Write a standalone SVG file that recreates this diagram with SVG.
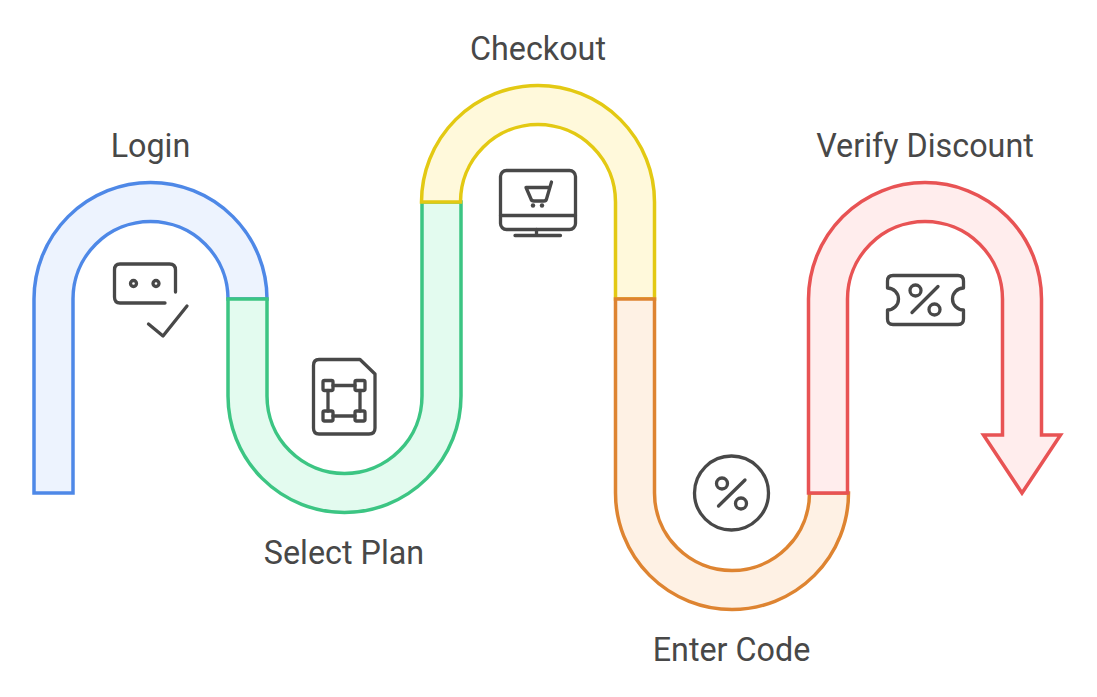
<svg xmlns="http://www.w3.org/2000/svg" width="1097" height="697" viewBox="0 0 1097 697">
<style>
text{font-family:Roboto,"Liberation Sans",sans-serif;font-size:32.3px;fill:#484848;text-anchor:middle}
.s{stroke-width:3.5;stroke-linejoin:miter}
.b{fill:#edf3fe;stroke:#4e88e7}
.g{fill:#e3fbef;stroke:#3cc583}
.y{fill:#fff9db;stroke:#e3c913}
.o{fill:#fef1e4;stroke:#de8431}
.r{fill:#ffeded;stroke:#e85354}
.i{fill:none;stroke:#484848;stroke-width:3.3;stroke-linecap:round;stroke-linejoin:round}
</style>
<rect width="1097" height="697" fill="#fff"/>
<g id="connectors">
<path class="s b" d="M34 493V299A116.500 116.500 0 0 1 267 299H228A77.500 77.500 0 0 0 73 299V493Z"/>
<path class="s g" d="M228 299H267V396A77.500 77.500 0 0 0 422 396V202H461V396A116.500 116.500 0 0 1 228 396Z"/>
<path class="s y" d="M421.500 202A116.500 116.500 0 0 1 654.500 202V299H615.500V202A77.500 77.500 0 0 0 460.500 202Z"/>
<path class="s o" d="M615.500 299H654.500V493A77.500 77.500 0 0 0 809.500 493H848.500A116.500 116.500 0 0 1 615.500 493Z"/>
<path class="s r" d="M808.500 493V299A116.500 116.500 0 0 1 1041.500 299V435H1060.500L1022 493L983.500 435H1002.500V299A77.500 77.500 0 0 0 847.500 299V493Z"/>
</g>
<g id="login">
<text x="150.500" y="156.600">Login</text>
<path class="i" d="M175.500 292V270Q175.500 264 169.500 264H120Q114.500 264 114.500 270V297Q114.500 303 120 303H165"/>
<circle class="i" cx="133.500" cy="283.500" r="3"/><circle class="i" cx="156" cy="283.500" r="3"/>
<path class="i" d="M148.500 324L163 336L187 306"/>
</g>
<g id="select-plan">
<text x="344" y="563.600">Select Plan</text>
<path class="i" d="M319 359.500H360L375 374V428Q375 434 369 434H319Q313.500 434 313.500 428V365.500Q313.500 359.500 319 359.500Z"/>
<rect class="i" x="323" y="380.500" width="10" height="10" rx="1.500"/>
<rect class="i" x="355" y="380.500" width="10" height="10" rx="1.500"/>
<rect class="i" x="323" y="411" width="10" height="10" rx="1.500"/>
<rect class="i" x="355" y="411" width="10" height="10" rx="1.500"/>
<path class="i" d="M333 385.500H355M333 416H355M328 390.500V411M360 390.500V411"/>
</g>
<g id="checkout">
<text x="538" y="59.600">Checkout</text>
<rect class="i" x="500.500" y="170.500" width="75" height="59" rx="6"/>
<path class="i" d="M500.500 215.500H575.500M536.500 229.500V235.500M515 235.500H560.500"/>
<path class="i" d="M526 187.500H549.500M526 187.500L531 199Q531.500 201 534 201H544Q546 201 546.500 199L551.500 182"/>
<circle cx="533" cy="205.500" r="2.200" fill="#484848"/><circle cx="542" cy="205.500" r="2.200" fill="#484848"/>
</g>
<g id="enter-code">
<text x="731.500" y="660.600">Enter Code</text>
<circle class="i" cx="731.500" cy="493" r="37"/>
<circle class="i" cx="722" cy="483.500" r="5.500"/><circle class="i" cx="741" cy="503.500" r="5.500"/>
<path class="i" d="M718.500 506L745 480"/>
</g>
<g id="verify-discount">
<text x="925" y="156.600">Verify Discount</text>
<path class="i" d="M893 275.500H958Q963.500 275.500 963.500 281V288A11 11 0 0 0 963.500 310V319Q963.500 324.500 958 324.500H893Q887.500 324.500 887.500 319V310A11 11 0 0 0 887.500 288V281Q887.500 275.500 893 275.500Z"/>
<circle class="i" cx="915.500" cy="290.500" r="5.500"/><circle class="i" cx="934.500" cy="309.500" r="5.500"/>
<path class="i" d="M912 312.500L938 286.500"/>
</g>
</svg>
